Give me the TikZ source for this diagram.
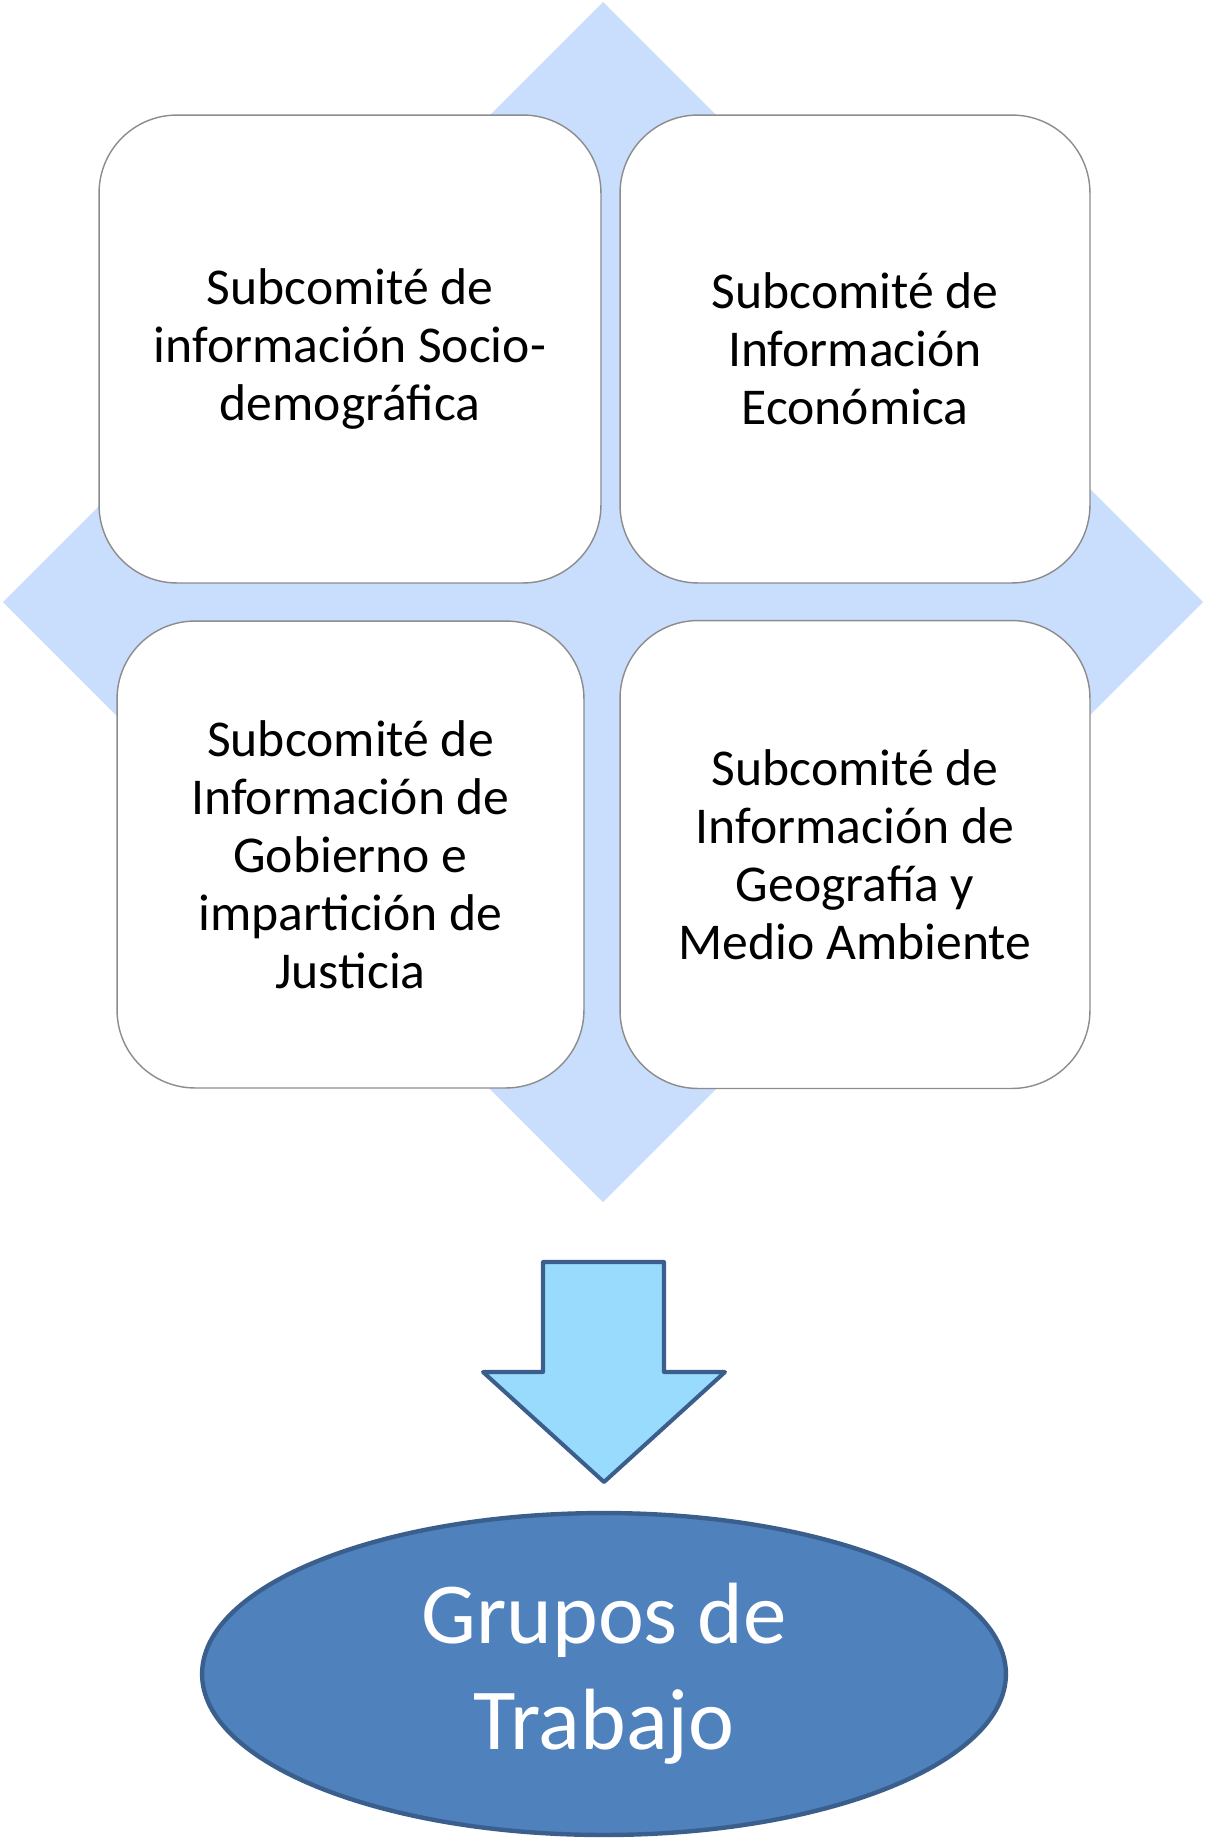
\documentclass[tikz,border=0pt]{standalone}
\usepackage{fontspec}
\setmainfont{Carlito}
\usepackage{tikz}
\usetikzlibrary{shapes}
\usetikzlibrary{positioning}
\definecolor{rombo}{RGB}{201,221,252}
\definecolor{cajaborde}{RGB}{140,140,140}
\definecolor{flechafondo}{RGB}{153,219,253}
\definecolor{flechaborde}{RGB}{59,94,140}
\definecolor{grupofondo}{RGB}{79,129,189}
\definecolor{grupoborde}{RGB}{58,95,141}
\tikzset{
    subcomite/.style={draw=cajaborde, fill=white, line width=0.8pt,
        rounded corners=1.56cm, align=center, inner sep=0pt,
        minimum height=9.36cm, font=\fontsize{29.4}{33}\selectfont},
    flecha/.style={draw=flechaborde, fill=flechafondo, line width=2.3pt, line join=round},
    grupo/.style={ellipse, draw=grupoborde, fill=grupofondo, line width=2.5pt,
        minimum width=16.08cm, minimum height=6.44cm, inner sep=0pt,
        text=white, align=center, font=\fontsize{49.5}{60.3}\selectfont},
}
\begin{document}
\begin{tikzpicture}[x=0.02cm, y=-0.02cm]
	\useasboundingbox (0,0) rectangle (1204,1839);
	% rombo de fondo
	\fill[rombo] (603,2) -- (1203,602) -- (603,1202) -- (3,602) -- cycle;
	\node[subcomite, minimum width=10.04cm] (socio) at (350,349)
		{Subcomité de\\información Socio-\\demográfica};
	\node[subcomite, minimum width=9.4cm] (econ) at (855,349)
		{Subcomité de\\Información\\Económica};
	\node[subcomite, minimum width=9.34cm, minimum height=9.34cm] (gob) at (350.5,854.5)
		{Subcomité de\\Información de\\Gobierno e\\impartición de\\Justicia};
	\node[subcomite, minimum width=9.4cm] (geo) at (855,854.5)
		{Subcomité de\\Información de\\Geografía y\\Medio Ambiente};
	% flecha hacia abajo
	\draw[flecha] (543,1262) -- (664,1262) -- (664,1372) -- (725,1372)
		-- (604,1482) -- (483,1372) -- (543,1372) -- cycle;
	\node[grupo] (trabajo) at (604,1674) {Grupos de\\Trabajo};
\end{tikzpicture}
\end{document}
